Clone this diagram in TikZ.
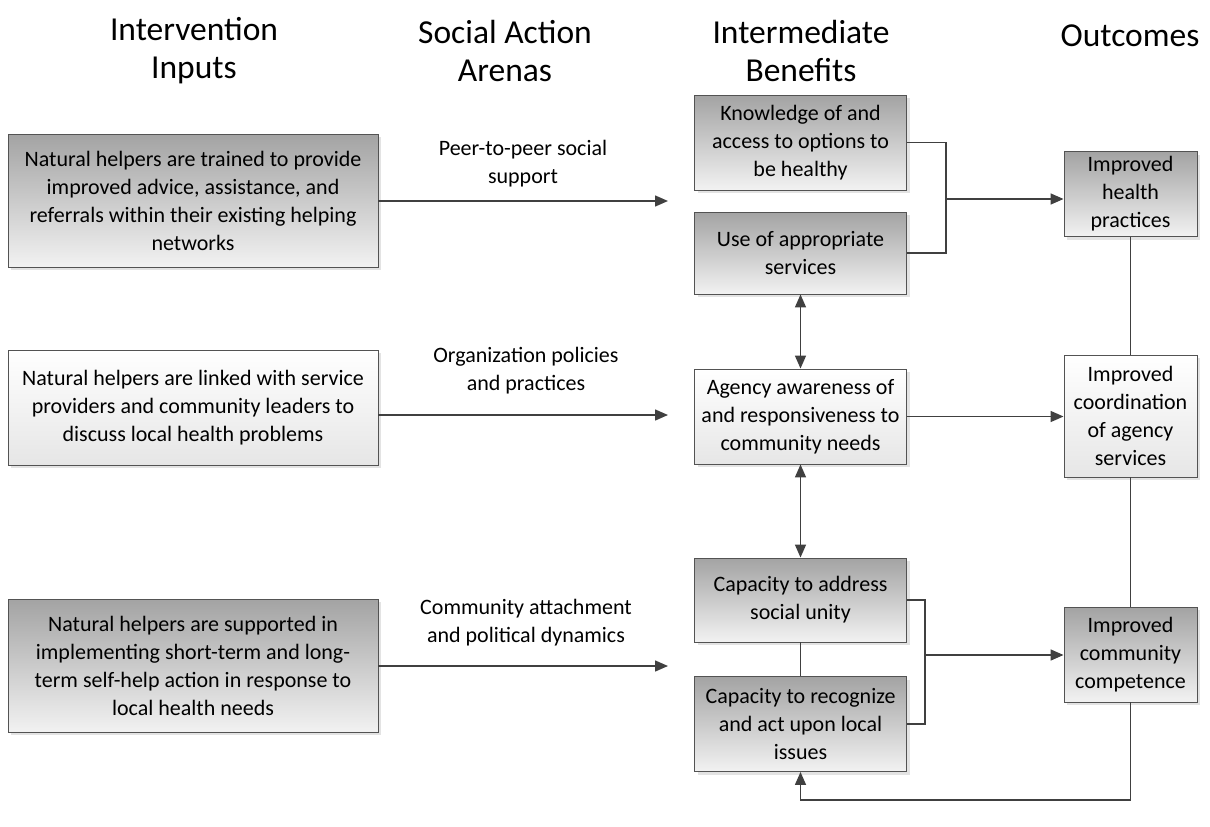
\documentclass[tikz,border=0pt]{standalone}
\usepackage{fontspec}
\setmainfont{Carlito}
\usetikzlibrary{shadows,arrows.meta}
\definecolor{edge}{HTML}{404040}
\definecolor{boxdark}{HTML}{A3A3A3}
\definecolor{boxlight}{HTML}{F2F2F2}
\definecolor{boxwhite}{HTML}{FFFFFF}
\definecolor{boxwhitebot}{HTML}{E6E6E6}
\tikzset{
  base/.style={rectangle, draw=edge!90, line width=0.9pt, align=center,
    font=\fontsize{22}{28}\selectfont, inner sep=2pt,
    drop shadow={shadow xshift=3pt, shadow yshift=-3pt, fill=black!18, opacity=0.6}},
  darkbox/.style={base, top color=boxdark, bottom color=boxlight},
  lightbox/.style={base, top color=boxwhite, bottom color=boxwhitebot},
  head/.style={align=center, font=\fontsize{33.5}{38}\selectfont},
  lab/.style={align=center, font=\fontsize{22}{28}\selectfont},
  conn/.style={draw=edge, line width=1.5pt},
  arr/.style={conn, -{Triangle[length=13pt,width=11pt]}},
  arrtwo/.style={conn, {Triangle[length=13pt,width=11pt]}-{Triangle[length=13pt,width=11pt]}},
}
\begin{document}
\begin{tikzpicture}[x=1pt,y=-1pt]
\useasboundingbox (0,0) rectangle (1210,827);
% headers
\node[head] (h1) at (194,51) {Intervention\\Inputs};
\node[head] (h2) at (505,51) {Social Action\\Arenas};
\node[head] (h3) at (801,51) {Intermediate\\Benefits};
\node[head, anchor=base] (h4) at (1130,46) {Outcomes};
% input boxes
\node[darkbox, minimum width=370pt, minimum height=133pt] (in1) at (193,200.5)
  {Natural helpers are trained to provide\\improved advice, assistance, and\\referrals within their existing helping\\networks};
\node[lightbox, minimum width=370pt, minimum height=115pt] (in2) at (193,407.5)
  {Natural helpers are linked with service\\providers and community leaders to\\discuss local health problems};
\node[darkbox, minimum width=370pt, minimum height=133pt] (in3) at (193,665.5)
  {Natural helpers are supported in\\implementing short-term and long-\\term self-help action in response to\\local health needs};
% intermediate boxes
\node[darkbox, minimum width=212pt, minimum height=95pt] (know) at (800.5,142.5)
  {Knowledge of and\\access to options to\\be healthy};
\node[darkbox, minimum width=212pt, minimum height=82pt] (use) at (800.5,253)
  {Use of appropriate\\services};
\node[lightbox, minimum width=212pt, minimum height=95pt] (agency) at (800.5,416.5)
  {Agency awareness of\\and responsiveness to\\community needs};
\node[darkbox, minimum width=212pt, minimum height=84pt] (capA) at (800.5,600)
  {Capacity to address\\social unity};
\node[darkbox, minimum width=212pt, minimum height=95pt] (capR) at (800.5,724)
  {Capacity to recognize\\and act upon local\\issues};
% outcome boxes
\node[darkbox, minimum width=133pt, minimum height=85pt] (health) at (1130.5,194)
  {Improved\\health\\practices};
\node[lightbox, minimum width=133pt, minimum height=122pt] (coord) at (1130.5,416)
  {Improved\\coordination\\of agency\\services};
\node[darkbox, minimum width=133pt, minimum height=95pt] (comp) at (1130.5,654.5)
  {Improved\\community\\competence};
% arena labels
\node[lab] (l1) at (523,164) {Peer-to-peer social\\support};
\node[lab] (l2) at (526,371) {Organization policies\\and practices};
\node[lab] (l3) at (526,623) {Community attachment\\and political dynamics};
% free ends of input arrows
\coordinate (e1) at (668,201);
\coordinate (e2) at (668,415);
\coordinate (e3) at (668,666);
\draw[arr] (in1.east |- e1) -- (e1);
\draw[arr] (in2.east |- e2) -- (e2);
\draw[arr] (in3.east |- e3) -- (e3);
% top merge
\coordinate (j1) at (946,199);
\draw[conn] (know.east) -| (j1) |- (use.east);
\draw[arr] (j1) -- (j1 -| health.west);
% vertical links
\draw[arrtwo] (use.south) -- (agency.north);
\draw[arrtwo] (agency.south) -- (capA.north);
\draw[conn, line width=1pt] (capA.south) -- (capR.north);
% agency to coordination
\draw[arr] (agency.east) -- (agency.east -| coord.west);
% bottom merge
\coordinate (j2) at (925,655);
\draw[conn] (capA.east) -| (j2) |- (capR.east);
\draw[arr] (j2) -- (j2 -| comp.west);
% outcome chain
\draw[conn, line width=1pt] (health.south) -- (coord.north);
\draw[conn, line width=1pt] (coord.south) -- (comp.north);
\coordinate (b1) at (1130.5,800);
\draw[arr] (comp.south) -- (b1) -| (capR.south);
\end{tikzpicture}
\end{document}
